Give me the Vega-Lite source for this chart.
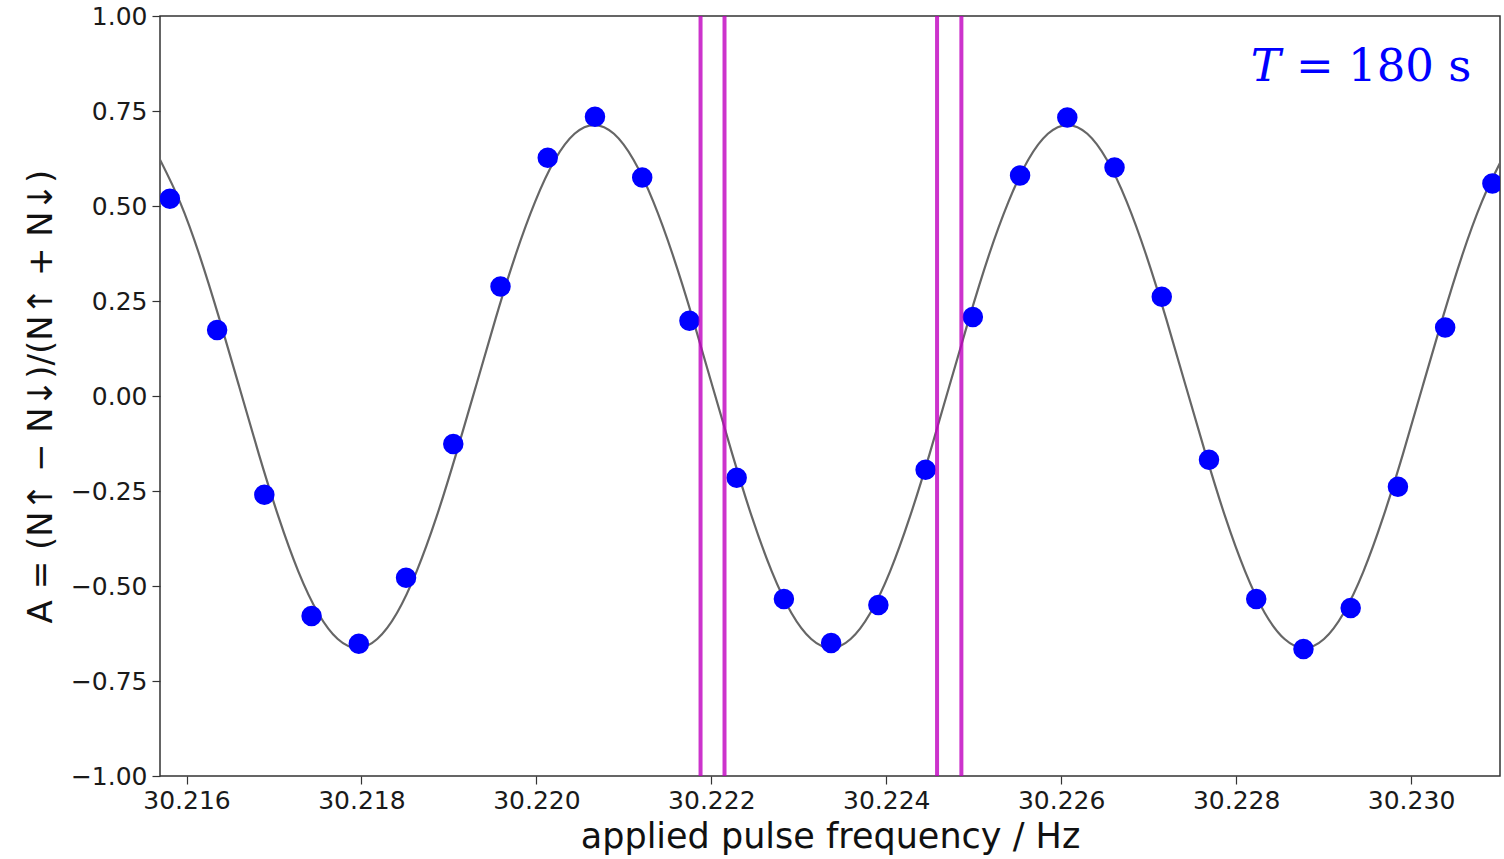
{
  "$schema": "https://vega.github.io/schema/vega-lite/v6.json",
  "autosize": {"type": "none"},
  "width": 1340,
  "height": 760,
  "padding": {"left": 160, "top": 16, "right": 4, "bottom": 83},
  "background": "white",
  "config": {
    "view": {"stroke": "#333333", "strokeWidth": 1.5},
    "axis": {
      "grid": false,
      "domain": false,
      "tickColor": "#333333",
      "tickWidth": 1.2,
      "tickSize": 8,
      "labelFont": "DejaVu Sans",
      "labelFontSize": 25,
      "labelColor": "#1a1a1a",
      "labelFlush": false,
      "labelOverlap": false,
      "titleFont": "DejaVu Sans",
      "titleFontWeight": "normal",
      "titleColor": "#111111"
    },
    "axisX": {"labelPadding": 4, "titleFontSize": 35, "titlePadding": 6},
    "axisY": {"labelPadding": 5, "titleFontSize": 34, "titlePadding": 12}
  },
  "datasets": {
    "fit": [
      {"f": 30.215697, "A": 0.622},
      {"f": 30.215925, "A": 0.511},
      {"f": 30.216151, "A": 0.369},
      {"f": 30.216376, "A": 0.203},
      {"f": 30.216602, "A": 0.025},
      {"f": 30.216827, "A": -0.153},
      {"f": 30.217053, "A": -0.319},
      {"f": 30.217278, "A": -0.4615},
      {"f": 30.217504, "A": -0.571},
      {"f": 30.217729, "A": -0.6395},
      {"f": 30.217955, "A": -0.663},
      {"f": 30.21818, "A": -0.6395},
      {"f": 30.218406, "A": -0.571},
      {"f": 30.218631, "A": -0.4615},
      {"f": 30.218857, "A": -0.319},
      {"f": 30.219082, "A": -0.153},
      {"f": 30.219308, "A": 0.025},
      {"f": 30.219533, "A": 0.203},
      {"f": 30.219759, "A": 0.369},
      {"f": 30.219985, "A": 0.511},
      {"f": 30.22021, "A": 0.621},
      {"f": 30.220436, "A": 0.69},
      {"f": 30.220661, "A": 0.713},
      {"f": 30.220887, "A": 0.69},
      {"f": 30.221112, "A": 0.621},
      {"f": 30.221338, "A": 0.511},
      {"f": 30.221563, "A": 0.369},
      {"f": 30.221789, "A": 0.203},
      {"f": 30.222014, "A": 0.025},
      {"f": 30.22224, "A": -0.153},
      {"f": 30.222465, "A": -0.319},
      {"f": 30.222691, "A": -0.4615},
      {"f": 30.222916, "A": -0.571},
      {"f": 30.223142, "A": -0.6395},
      {"f": 30.223367, "A": -0.663},
      {"f": 30.223593, "A": -0.6395},
      {"f": 30.223818, "A": -0.571},
      {"f": 30.224044, "A": -0.4615},
      {"f": 30.224269, "A": -0.319},
      {"f": 30.224495, "A": -0.153},
      {"f": 30.22472, "A": 0.025},
      {"f": 30.224946, "A": 0.203},
      {"f": 30.225171, "A": 0.369},
      {"f": 30.225397, "A": 0.511},
      {"f": 30.225622, "A": 0.621},
      {"f": 30.225848, "A": 0.69},
      {"f": 30.226073, "A": 0.713},
      {"f": 30.226299, "A": 0.69},
      {"f": 30.226524, "A": 0.621},
      {"f": 30.22675, "A": 0.511},
      {"f": 30.226975, "A": 0.369},
      {"f": 30.227201, "A": 0.203},
      {"f": 30.227426, "A": 0.025},
      {"f": 30.227652, "A": -0.153},
      {"f": 30.227877, "A": -0.319},
      {"f": 30.228103, "A": -0.4615},
      {"f": 30.228328, "A": -0.571},
      {"f": 30.228554, "A": -0.6395},
      {"f": 30.228779, "A": -0.663},
      {"f": 30.229005, "A": -0.6395},
      {"f": 30.22923, "A": -0.571},
      {"f": 30.229456, "A": -0.4615},
      {"f": 30.229681, "A": -0.319},
      {"f": 30.229907, "A": -0.153},
      {"f": 30.230132, "A": 0.025},
      {"f": 30.230358, "A": 0.203},
      {"f": 30.230583, "A": 0.369},
      {"f": 30.230809, "A": 0.511},
      {"f": 30.231017, "A": 0.613}
    ],
    "measured": [
      {"f": 30.21581, "A": 0.519},
      {"f": 30.21635, "A": 0.174},
      {"f": 30.21689, "A": -0.26},
      {"f": 30.21743, "A": -0.579},
      {"f": 30.21797, "A": -0.652},
      {"f": 30.21851, "A": -0.478},
      {"f": 30.21905, "A": -0.126},
      {"f": 30.21959, "A": 0.288},
      {"f": 30.22013, "A": 0.627},
      {"f": 30.22067, "A": 0.735},
      {"f": 30.22121, "A": 0.575},
      {"f": 30.22175, "A": 0.198},
      {"f": 30.22229, "A": -0.215},
      {"f": 30.22283, "A": -0.534},
      {"f": 30.22337, "A": -0.65},
      {"f": 30.22391, "A": -0.55},
      {"f": 30.22445, "A": -0.194},
      {"f": 30.22499, "A": 0.208},
      {"f": 30.22553, "A": 0.58},
      {"f": 30.22607, "A": 0.733},
      {"f": 30.22661, "A": 0.601},
      {"f": 30.22715, "A": 0.261},
      {"f": 30.22769, "A": -0.168},
      {"f": 30.22823, "A": -0.534},
      {"f": 30.22877, "A": -0.666},
      {"f": 30.22931, "A": -0.558},
      {"f": 30.22985, "A": -0.239},
      {"f": 30.23039, "A": 0.18},
      {"f": 30.23093, "A": 0.559}
    ],
    "markers": [
      {"f": 30.221877},
      {"f": 30.222151},
      {"f": 30.224581},
      {"f": 30.224859}
    ]
  },
  "layer": [
    {
      "data": {"name": "fit"},
      "mark": {"type": "line", "color": "#666666", "strokeWidth": 2.2, "interpolate": "natural", "clip": true},
      "encoding": {
        "x": {"field": "f", "type": "quantitative", "title": "applied pulse frequency / Hz", "scale": {"domain": [30.215697, 30.231017], "nice": false, "zero": false},
              "axis": {"values": [30.216, 30.218, 30.22, 30.222, 30.224, 30.226, 30.228, 30.23], "format": ".3f"}},
        "y": {"field": "A", "type": "quantitative", "title": "A = (N↑ − N↓)/(N↑ + N↓)", "scale": {"domain": [-1, 1], "nice": false, "zero": false},
              "axis": {"values": [-1, -0.75, -0.5, -0.25, 0, 0.25, 0.5, 0.75, 1], "format": ".2f"}}
      }
    },
    {
      "data": {"name": "measured"},
      "mark": {"type": "point", "filled": true, "shape": "circle", "color": "#0000ff", "opacity": 1, "size": 420, "clip": true},
      "encoding": {
        "x": {"field": "f", "type": "quantitative", "title": "applied pulse frequency / Hz", "scale": {"domain": [30.215697, 30.231017], "nice": false, "zero": false},
              "axis": {"values": [30.216, 30.218, 30.22, 30.222, 30.224, 30.226, 30.228, 30.23], "format": ".3f"}},
        "y": {"field": "A", "type": "quantitative", "title": "A = (N↑ − N↓)/(N↑ + N↓)", "scale": {"domain": [-1, 1], "nice": false, "zero": false},
              "axis": {"values": [-1, -0.75, -0.5, -0.25, 0, 0.25, 0.5, 0.75, 1], "format": ".2f"}}
      }
    },
    {
      "data": {"name": "markers"},
      "mark": {"type": "rule", "color": "#bf00bf", "opacity": 0.8, "strokeWidth": 4},
      "encoding": {
        "x": {"field": "f", "type": "quantitative", "title": "applied pulse frequency / Hz", "scale": {"domain": [30.215697, 30.231017], "nice": false, "zero": false},
              "axis": {"values": [30.216, 30.218, 30.22, 30.222, 30.224, 30.226, 30.228, 30.23], "format": ".3f"}}
      }
    },
    {
      "data": {"values": [{}]},
      "mark": {"type": "text", "text": "T", "font": "DejaVu Serif", "fontStyle": "italic", "fontSize": 45, "color": "#0000ff", "align": "right", "baseline": "alphabetic"},
      "encoding": {
        "x": {"datum": 30.22851, "type": "quantitative", "title": "applied pulse frequency / Hz", "scale": {"domain": [30.215697, 30.231017], "nice": false, "zero": false},
              "axis": {"values": [30.216, 30.218, 30.22, 30.222, 30.224, 30.226, 30.228, 30.23], "format": ".3f"}},
        "y": {"datum": 0.83, "type": "quantitative", "title": "A = (N↑ − N↓)/(N↑ + N↓)", "scale": {"domain": [-1, 1], "nice": false, "zero": false},
              "axis": {"values": [-1, -0.75, -0.5, -0.25, 0, 0.25, 0.5, 0.75, 1], "format": ".2f"}}
      }
    },
    {
      "data": {"values": [{}]},
      "mark": {"type": "text", "text": "= 180 s", "font": "DejaVu Serif", "fontSize": 45, "color": "#0000ff", "align": "right", "baseline": "alphabetic"},
      "encoding": {
        "x": {"datum": 30.23069, "type": "quantitative", "title": "applied pulse frequency / Hz", "scale": {"domain": [30.215697, 30.231017], "nice": false, "zero": false},
              "axis": {"values": [30.216, 30.218, 30.22, 30.222, 30.224, 30.226, 30.228, 30.23], "format": ".3f"}},
        "y": {"datum": 0.83, "type": "quantitative", "title": "A = (N↑ − N↓)/(N↑ + N↓)", "scale": {"domain": [-1, 1], "nice": false, "zero": false},
              "axis": {"values": [-1, -0.75, -0.5, -0.25, 0, 0.25, 0.5, 0.75, 1], "format": ".2f"}}
      }
    }
  ]
}
